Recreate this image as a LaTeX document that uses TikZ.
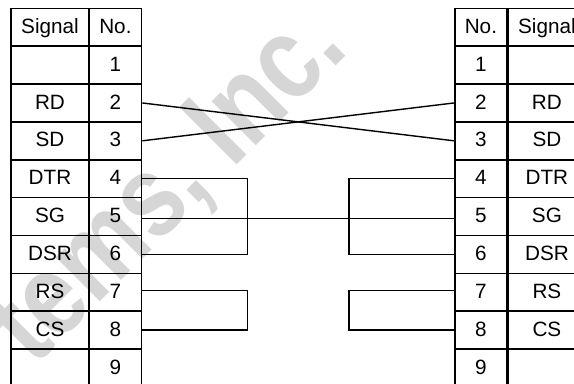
\documentclass[tikz,border=0pt]{standalone}
\usepackage{fontspec}
\setmainfont{Liberation Sans}
\begin{document}
\begin{tikzpicture}[x=1bp,y=-1bp,
  cell/.style={draw, line width=1.6bp, inner sep=0pt, minimum height=37.86bp,
    text height=12.1bp, text depth=0pt, font=\fontsize{20.7bp}{24bp}\selectfont},
  sigcol/.style={cell, minimum width=78bp},
  nocol/.style={cell, minimum width=52.2bp},
  wire/.style={line width=1.4bp},
  wmark/.style={font=\fontsize{118bp}{120bp}\selectfont\bfseries, text=black!16,
    rotate=45, xscale=0.82, anchor=base east, inner sep=0pt}]
\useasboundingbox (0,0) rectangle (574,383);
\clip (0,0) rectangle (574,383);
% watermark
\node[wmark] (wm) at (350.2,51.6) {tems, Inc.};
% tables
\foreach \k/\s/\n in {0/Signal/No.,1//1,2/RD/2,3/SD/3,4/DTR/4,5/SG/5,6/DSR/6,7/RS/7,8/CS/8,9//9} {
  \node[sigcol] (LS\k) at (50,{27.23+37.86*\k}) {\s};
  \node[nocol] (LN\k) at (115.4,{27.23+37.86*\k}) {\n};
  \node[nocol] (RN\k) at (480.9,{27.23+37.86*\k}) {\n};
  \node[sigcol] (RS\k) at (546.9,{27.23+37.86*\k}) {\s};
}
% wiring
\draw[wire] (LN2.east) -- (RN3.west);
\draw[wire] (LN3.east) -- (RN2.west);
\draw[wire] ([yshift=-1.8bp]LN5.east) -- ([yshift=-1.8bp]RN5.west);
\draw[wire] (LN4.east) -- ++(105,0) |- (LN6.east);
\draw[wire] ([yshift=2bp]LN7.east) -- ++(105,0) |- (LN8.east);
\draw[wire] (RN4.west) -- ++(-105,0) |- (RN6.west);
\draw[wire] ([yshift=2bp]RN7.west) -- ++(-105,0) |- (RN8.west);
\end{tikzpicture}
\end{document}
